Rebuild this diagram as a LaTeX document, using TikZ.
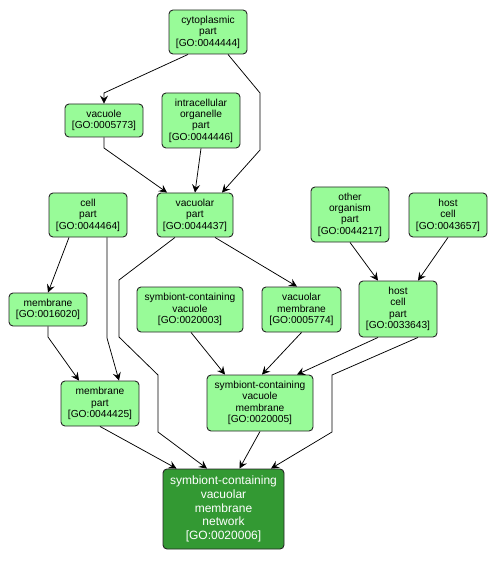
\documentclass[tikz,border=0pt]{standalone}
\usepackage{fontspec}
\setmainfont{Liberation Sans}
\usetikzlibrary{arrows.meta}
\definecolor{lightgo}{RGB}{152,251,152}
\definecolor{darkgo}{RGB}{51,153,51}
\begin{document}
\begin{tikzpicture}[x=1pt,y=-1pt,
  term/.style={draw=black!85,line width=0.9pt,rounded corners=4pt,fill=lightgo,align=center,
    inner sep=0pt,font=\fontsize{10.2}{11.4}\selectfont},
  mainterm/.style={draw=black!85,line width=0.9pt,rounded corners=4pt,fill=darkgo,align=center,
    inner sep=0pt,text=white,font=\fontsize{12}{13.8}\selectfont},
  arr/.style={line width=0.75pt,-{Stealth[length=8pt,width=8pt,inset=3pt]}}]
\useasboundingbox[fill=white] (0,0) rectangle (497,561);
\node[term,minimum width=78pt,minimum height=44pt] (cyto) at (208,32) {cytoplasmic\\part\\{[GO:0044444]}};
\node[term,minimum width=78pt,minimum height=33pt] (vac) at (104,120.5) {vacuole\\{[GO:0005773]}};
\node[term,minimum width=78pt,minimum height=55pt] (iop) at (201,120.5) {intracellular\\organelle\\part\\{[GO:0044446]}};
\node[term,minimum width=78pt,minimum height=44pt] (cellpart) at (88,215) {cell\\part\\{[GO:0044464]}};
\node[term,minimum width=76pt,minimum height=44pt] (vacpart) at (195,215) {vacuolar\\part\\{[GO:0044437]}};
\node[term,minimum width=78pt,minimum height=55pt] (otherorg) at (350,214.5) {other\\organism\\part\\{[GO:0044217]}};
\node[term,minimum width=78pt,minimum height=44pt] (hostcell) at (448,215) {host\\cell\\{[GO:0043657]}};
\node[term,minimum width=78pt,minimum height=33pt] (membrane) at (48,309.5) {membrane\\{[GO:0016020]}};
\node[term,minimum width=106pt,minimum height=45pt] (scv) at (190,309.5) {symbiont-containing\\vacuole\\{[GO:0020003]}};
\node[term,minimum width=79pt,minimum height=45pt] (vacmem) at (301.5,309.5) {vacuolar\\membrane\\{[GO:0005774]}};
\node[term,minimum width=78pt,minimum height=56pt] (hcp) at (398,309) {host\\cell\\part\\{[GO:0033643]}};
\node[term,minimum width=78pt,minimum height=45pt] (mempart) at (100,403.5) {membrane\\part\\{[GO:0044425]}};
\node[term,minimum width=106pt,minimum height=56pt] (scvm) at (260,403) {symbiont-containing\\vacuole\\membrane\\{[GO:0020005]}};
\node[mainterm,minimum width=121pt,minimum height=80pt] (bottom) at (223.5,509) {symbiont-containing\\vacuolar\\membrane\\network\\{[GO:0020006]}};
\draw[arr] ([xshift=-20pt]cyto.south) -- (104,93) -- (vac.north);
\draw[arr] ([xshift=20pt]cyto.south) -- (260,93) -- (260,150) -- ([xshift=27pt]vacpart.north);
\draw[arr] (vac.south) -- (104,148) -- ([xshift=-28pt]vacpart.north);
\draw[arr] (iop.south) -- (vacpart.north);
\draw[arr] ([xshift=-19pt]cellpart.south) -- (membrane.north);
\draw[arr] ([xshift=19pt]cellpart.south) -- (107,338) -- ([xshift=19pt]mempart.north);
\draw[arr] (membrane.south) -- (48,337) -- ([xshift=-21pt]mempart.north);
\draw[arr] ([xshift=-20pt]vacpart.south) -- (119,280) -- (119,337) -- (158,375) -- (158,432) -- ([xshift=-16.5pt]bottom.north);
\draw[arr] ([xshift=20pt]vacpart.south) -- ([xshift=-4.5pt]vacmem.north);
\draw[arr] ([xshift=1pt]scv.south) -- ([xshift=-35pt]scvm.north);
\draw[arr] (vacmem.south) -- ([xshift=2pt]scvm.north);
\draw[arr] ([xshift=-20pt]hcp.south) -- ([xshift=37pt]scvm.north);
\draw[arr] ([xshift=20pt]hcp.south) -- (332,375) -- (332,432) -- ([xshift=47.5pt]bottom.north);
\draw[arr] (mempart.south) -- ([xshift=-47pt]bottom.north);
\draw[arr] (scvm.south) -- ([xshift=16pt]bottom.north);
\draw[arr] (otherorg.south) -- ([xshift=-20pt]hcp.north);
\draw[arr] (hostcell.south) -- ([xshift=20pt]hcp.north);
\end{tikzpicture}
\end{document}
